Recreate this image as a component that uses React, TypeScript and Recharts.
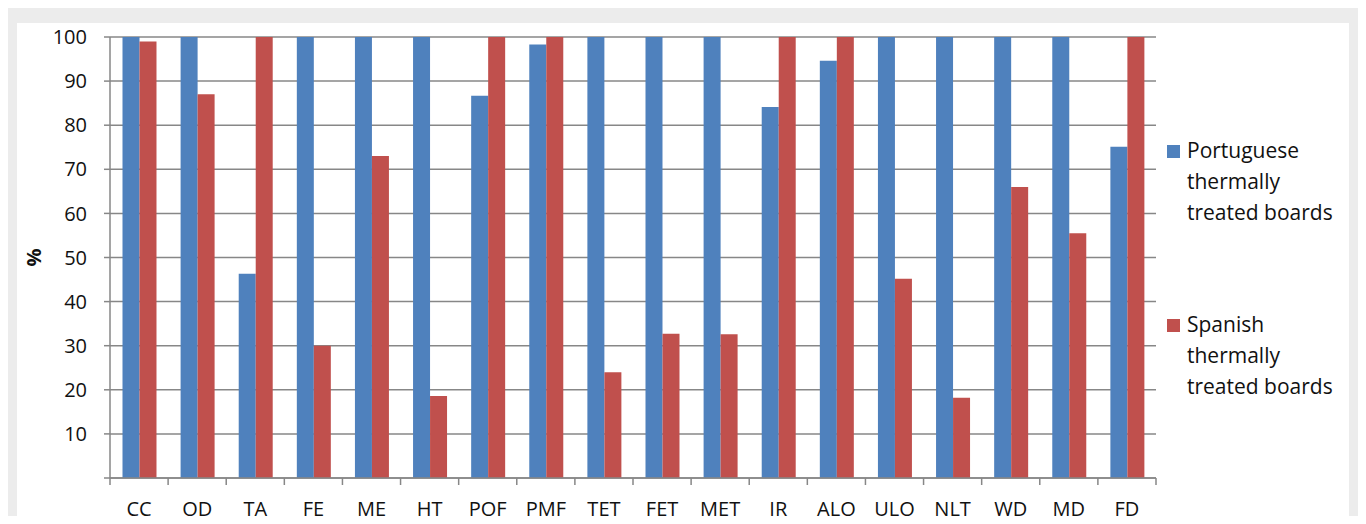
import React from 'react';
import { BarChart, Bar, XAxis, YAxis, CartesianGrid, Label } from 'recharts';

const categories = ['CC', 'OD', 'TA', 'FE', 'ME', 'HT', 'POF', 'PMF', 'TET', 'FET', 'MET', 'IR', 'ALO', 'ULO', 'NLT', 'WD', 'MD', 'FD'];
const portuguese = [100, 100, 46.3, 100, 100, 100, 86.7, 98.3, 100, 100, 100, 84.1, 94.6, 100, 100, 100, 100, 75.1];
const spanish = [99, 87, 100, 30, 73, 18.6, 100, 100, 24, 32.7, 32.6, 100, 100, 45.2, 18.2, 66, 55.5, 100];
const yTicks = [0, 10, 20, 30, 40, 50, 60, 70, 80, 90, 100];

const seriesNames = ['Portuguese thermally treated boards', 'Spanish thermally treated boards'];
const COLORS = ['#4f81bd', '#c0504d'];
const GRID = '#878787';
const FONT = '"Open Sans", sans-serif';

const W = 1366;
const H = 524;
const PLOT_LEFT = 110;
const PLOT_RIGHT = 1156;
const BAND = (PLOT_RIGHT - PLOT_LEFT) / categories.length;

const data = categories.map((c, i) => ({
  name: c,
  portuguese: portuguese[i],
  spanish: spanish[i],
}));

function CategoryTick(props: any) {
  const { x, y, payload, index } = props;
  const left = x - BAND / 2;
  return (
    <g>
      <line x1={left} y1={y} x2={left} y2={y + 7} stroke={GRID} strokeWidth={1.5} />
      {index === categories.length - 1 && (
        <line x1={left + BAND} y1={y} x2={left + BAND} y2={y + 7} stroke={GRID} strokeWidth={1.5} />
      )}
      <text x={x} y={y + 38} textAnchor="middle" fill="#111" fontSize={20} fontFamily={FONT}>
        {payload.value}
      </text>
    </g>
  );
}

function ChartLegend() {
  return (
    <div
      style={{
        position: 'absolute',
        left: 1167,
        top: 135,
        fontFamily: FONT,
        fontSize: 21,
        color: '#111',
        lineHeight: '31px',
      }}
    >
      {seriesNames.map((name, i) => (
        <div key={`legend-${i}`} style={{ display: 'flex', alignItems: 'flex-start', marginBottom: i === 0 ? 81 : 0 }}>
          <div style={{ width: 13, height: 13, background: COLORS[i], marginTop: 10, marginRight: 7, flex: 'none' }} />
          <div style={{ width: 165 }}>{name}</div>
        </div>
      ))}
    </div>
  );
}

export default function App() {
  return (
    <div style={{ position: 'relative', width: W, height: H, margin: -8, background: '#fff', overflow: 'hidden' }}>
      <div style={{ position: 'absolute', left: 3, top: 7, width: W - 3, height: H - 7, background: '#ececec' }} />
      <div style={{ position: 'absolute', left: 17, top: 23, width: 1332, height: H - 23, background: '#fff' }} />
      <div style={{ position: 'absolute', left: 0, top: 0 }}>
        <BarChart
          width={W}
          height={H}
          data={data}
          margin={{ top: 37, right: W - PLOT_RIGHT, bottom: 6, left: 0 }}
          barCategoryGap="21.5%"
          barGap={0}
          style={{ overflow: 'visible' }}
        >
          <CartesianGrid horizontal vertical={false} stroke={GRID} strokeWidth={1.5} strokeDasharray="" />
          <XAxis
            dataKey="name"
            height={40}
            interval={0}
            tickLine={false}
            tickSize={0}
            tickMargin={0}
            axisLine={{ stroke: GRID, strokeWidth: 1.5 }}
            tick={<CategoryTick />}
          />
          <YAxis
            width={PLOT_LEFT}
            domain={[0, 100]}
            ticks={yTicks}
            interval={0}
            tickFormatter={(v: number) => (v === 0 ? '' : String(v))}
            tickSize={6}
            tickMargin={17}
            tickLine={{ stroke: GRID, strokeWidth: 1.5 }}
            axisLine={{ stroke: GRID, strokeWidth: 1.5 }}
            tick={{ fill: '#111', fontSize: 20, fontFamily: FONT }}
          >
            <Label
              value="%"
              angle={-90}
              position="insideLeft"
              offset={34}
              style={{ fontFamily: FONT, fontSize: 20, fontWeight: 'bold', fill: '#111', textAnchor: 'middle' }}
            />
          </YAxis>
          <Bar dataKey="portuguese" name={seriesNames[0]} fill={COLORS[0]} isAnimationActive={false} />
          <Bar dataKey="spanish" name={seriesNames[1]} fill={COLORS[1]} isAnimationActive={false} />
        </BarChart>
      </div>
      <ChartLegend />
    </div>
  );
}
